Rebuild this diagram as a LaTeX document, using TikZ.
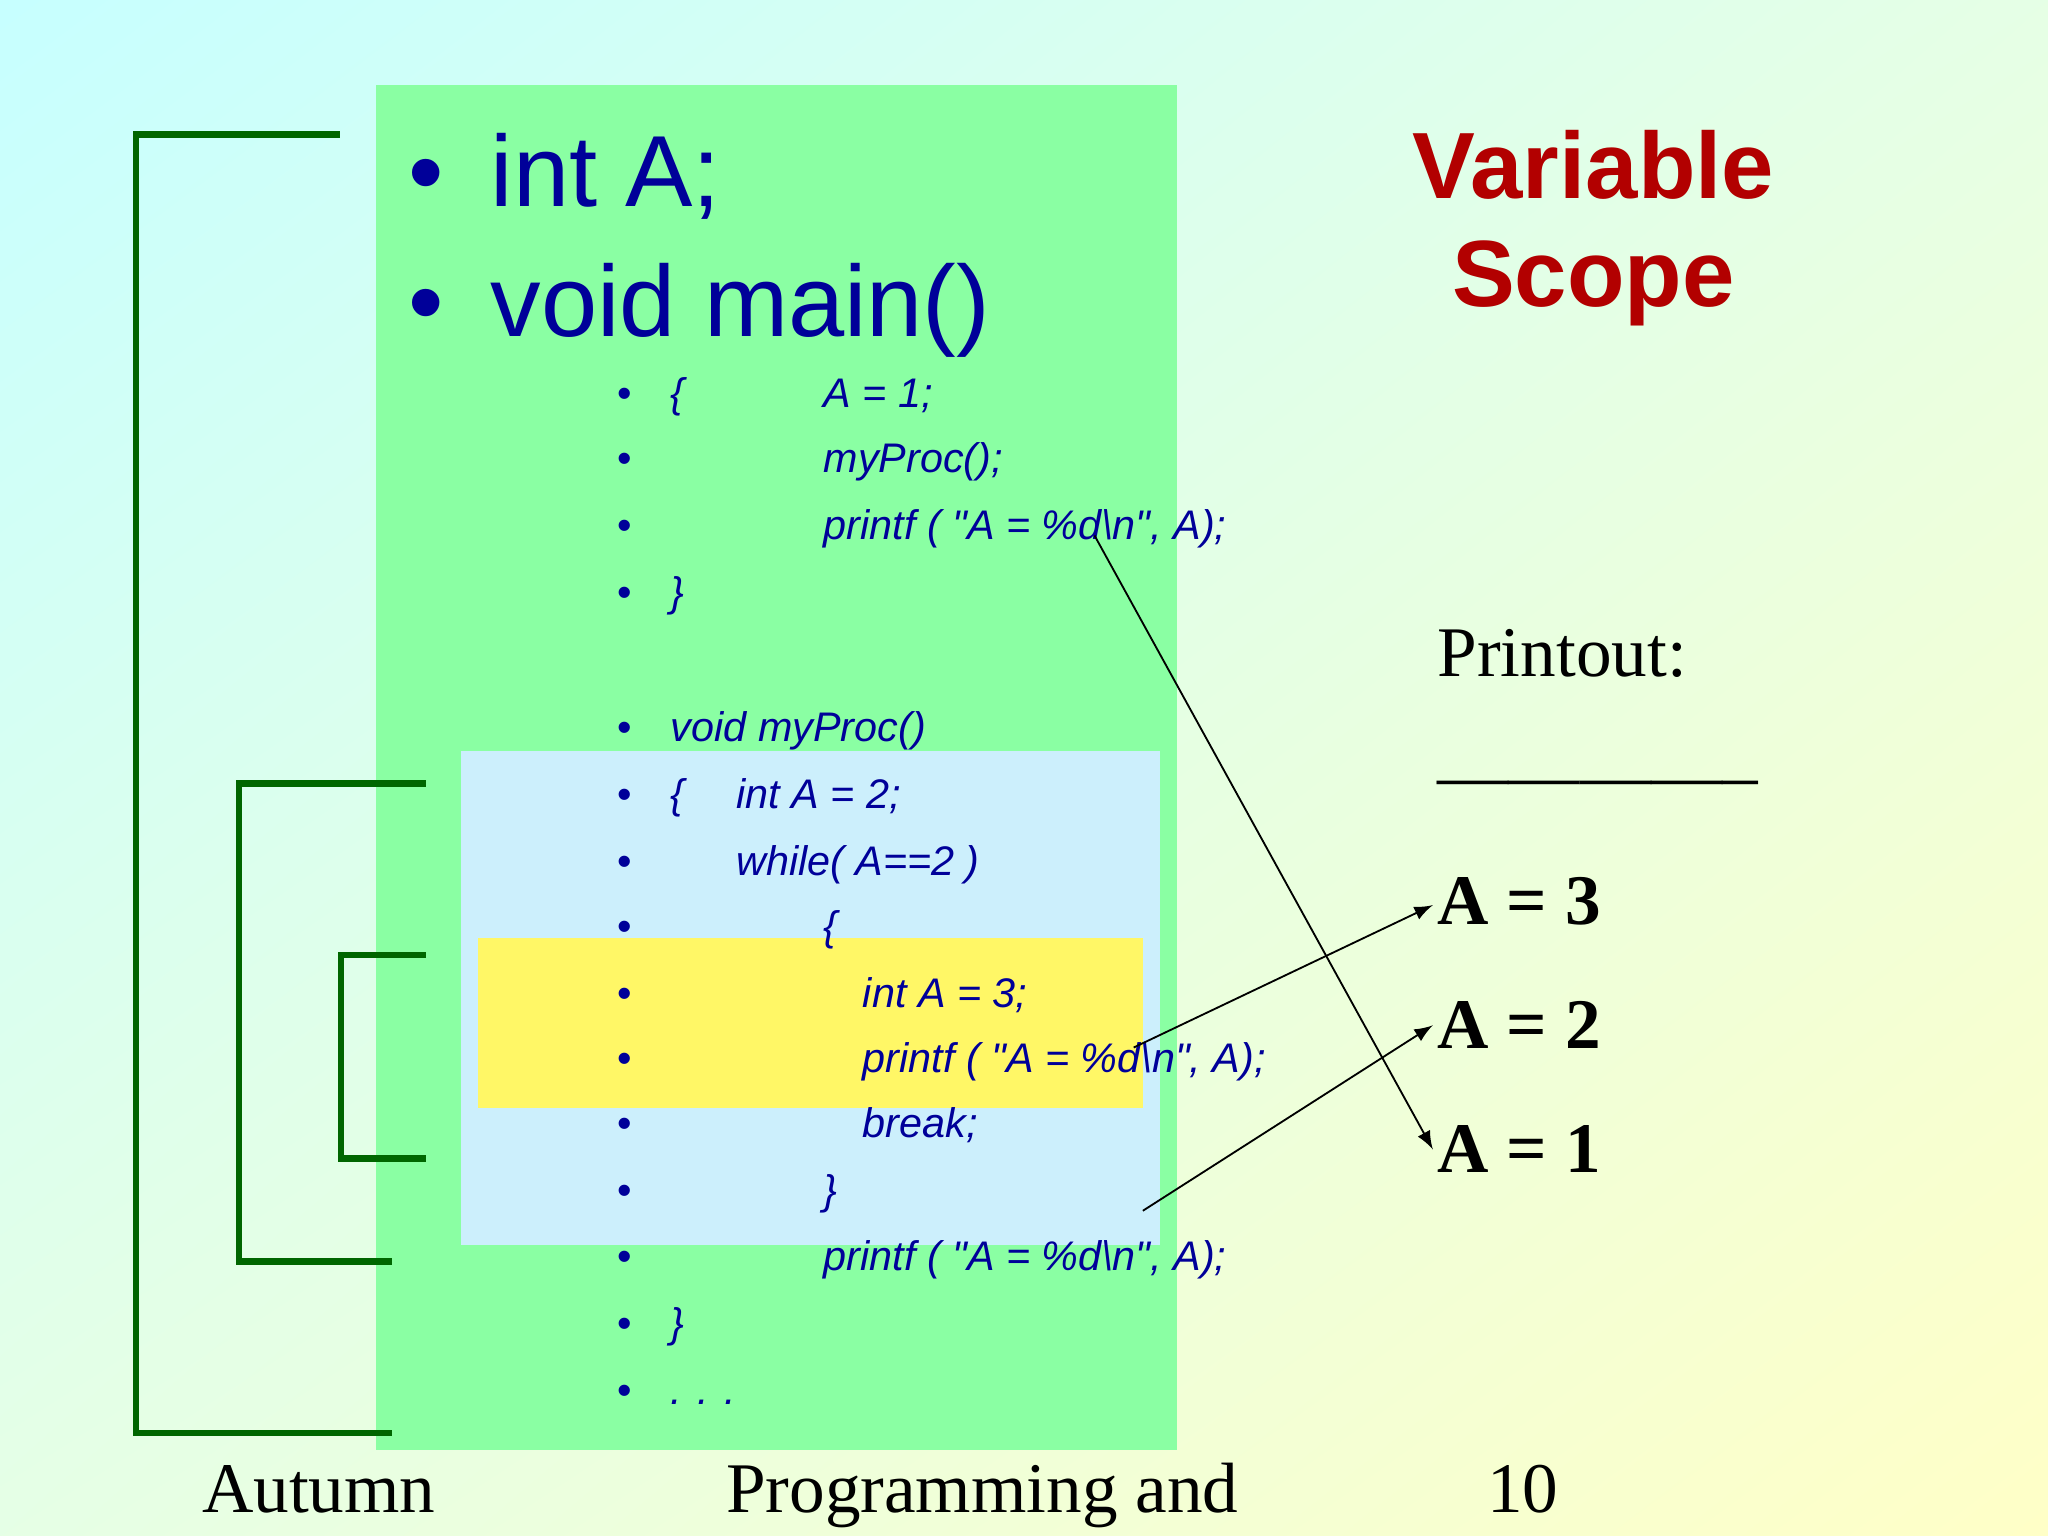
\documentclass[tikz,border=0pt]{standalone}
\usepackage{fontspec}
\usetikzlibrary{shadings}
\setmainfont{Liberation Serif}
\newfontfamily\sansf{Liberation Sans}
\begin{document}
\begin{tikzpicture}[x=0.01cm,y=-0.01cm,
 big/.style={anchor=base west,text=blue!60!black,font=\sansf\fontsize{22}{26}\selectfont,inner sep=0},
 code/.style={anchor=base west,text=blue!60!black,font=\sansf\itshape\fontsize{9}{11}\selectfont,inner sep=0},
 bul/.style={anchor=base,text=blue!60!black,font=\sansf\fontsize{9}{11}\selectfont,inner sep=0},
 prt/.style={anchor=base west,font=\fontsize{15.5}{18}\selectfont,inner sep=0},
 brk/.style={draw=green!40!black,line width=1.4pt},
 arr/.style={-latex,thin}]
\useasboundingbox (0,0) rectangle (1568,1176);
\shade[upper left=cyan!22,lower left=green!10!white,upper right=green!10!white,lower right=yellow!22] (0,0) rectangle (1568,1176);
\fill[green!40!white!90!cyan] (288,65) rectangle (901,1110);
\fill[cyan!20] (353,575) rectangle (888,953);
\fill[yellow!60] (366,718) rectangle (875,848);
\draw[brk] (260,103) -- (104,103) -- (104,1097) -- (300,1097);
\draw[brk] (326,600) -- (183,600) -- (183,966) -- (300,966);
\draw[brk] (326,731) -- (261,731) -- (261,887) -- (326,887);
\node[big] (b1) at (312,158) {•};
\node[big] (t1) at (375,158) {int A;};
\node[big] (b2) at (312,258) {•};
\node[big] (t2) at (375,258) {void main()};
\foreach \y [count=\i] in {312,362,413,464,568,619,670,720,771,821,871,922,973,1024,1075}
  \node[bul] (bl\i) at (478,\y) {•};
\node[code] (c1a) at (513,312) {\{};
\node[code] (c1) at (630,312) {A = 1;};
\node[code] (c2) at (630,362) {myProc();};
\node[code] (c3) at (630,413) {printf ( "A = \%d\textbackslash n", A);};
\node[code] (c4) at (513,464) {\}};
\node[code] (c5) at (513,568) {void myProc()};
\node[code] (c6a) at (513,619) {\{};
\node[code] (c6) at (563,619) {int A = 2;};
\node[code] (c7) at (563,670) {while( A==2 )};
\node[code] (c8) at (630,720) {\{};
\node[code] (c9) at (660,771) {int A = 3;};
\node[code] (c10) at (660,821) {printf ( "A = \%d\textbackslash n", A);};
\node[code] (c11) at (660,871) {break;};
\node[code] (c12) at (630,922) {\}};
\node[code] (c13) at (630,973) {printf ( "A = \%d\textbackslash n", A);};
\node[code] (c14) at (513,1024) {\}};
\node[code] (c15) at (513,1075) {. . .};
\node[anchor=base,text=red!70!black,font=\sansf\bfseries\fontsize{20.5}{24}\selectfont,inner sep=0] (ti1) at (1220,152) {Variable};
\node[anchor=base,text=red!70!black,font=\sansf\bfseries\fontsize{20.5}{24}\selectfont,inner sep=0] (ti2) at (1220,235) {Scope};
\node[prt] (p) at (1100,518) {Printout:};
\node[prt] (d) at (1100,612) {--------------};
\node[prt,font=\bfseries\fontsize{15.5}{18}\selectfont] (a3) at (1100,708) {A = 3};
\node[prt,font=\bfseries\fontsize{15.5}{18}\selectfont] (a2) at (1100,803) {A = 2};
\node[prt,font=\bfseries\fontsize{15.5}{18}\selectfont] (a1) at (1100,898) {A = 1};
\coordinate (s1) at (838,410);
\coordinate (s2) at (868,802);
\coordinate (s3) at (875,927);
\draw[arr] (s1) -- (1097,880);
\draw[arr] (s2) -- (1097,693);
\draw[arr] (s3) -- (1097,785);
\node[prt,anchor=base] (f1) at (244,1158) {Autumn};
\node[prt,anchor=base] (f2) at (752,1158) {Programming and};
\node[prt,anchor=base] (f3) at (1166,1158) {10};
\end{tikzpicture}
\end{document}
